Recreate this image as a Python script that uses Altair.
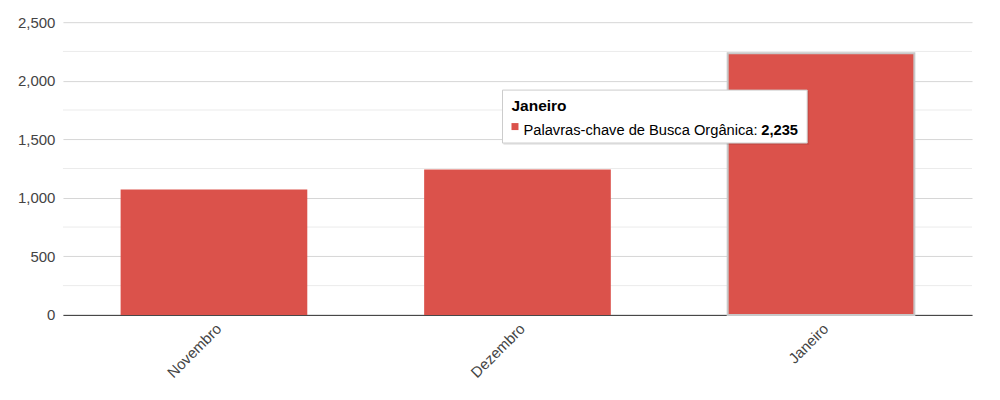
import altair as alt
import pandas as pd

months = ["Novembro", "Dezembro", "Janeiro"]
values = [1070, 1242, 2235]
series_name = "Palavras-chave de Busca Orgânica"
major_ticks = [0, 500, 1000, 1500, 2000, 2500]
minor_ticks = [250, 750, 1250, 1750, 2250]
highlight = "Janeiro"

FONT = "Liberation Sans"
BAR = "#DB524B"

df = pd.DataFrame({"mes": months, "valor": values, "hl": [m == highlight for m in months]})
minor_df = pd.DataFrame({"v": minor_ticks})

yscale = alt.Scale(domain=[0, 2500], nice=False)

minor = alt.Chart(minor_df).mark_rule(color="#ebebeb", strokeWidth=1).encode(
    y=alt.Y("v:Q", scale=yscale)
)

bars = alt.Chart(df).mark_bar(color=BAR).encode(
    x=alt.X("mes:N", sort=months, title=None,
            scale=alt.Scale(paddingInner=0.385, paddingOuter=0.19),
            axis=alt.Axis(labelAngle=-45, labelAlign="right", labelBaseline="top",
                          labelFont=FONT, labelFontSize=15, labelColor="#444",
                          ticks=False, domainColor="#333", domainWidth=1, labelPadding=6)),
    y=alt.Y("valor:Q", scale=yscale, title=None,
            axis=alt.Axis(values=major_ticks, format=",d", labelFont=FONT, labelFontSize=15,
                          labelColor="#444", gridColor="#d6d6d6", domain=False, ticks=False,
                          labelPadding=8)),
    stroke=alt.condition("datum.hl", alt.value("#c8c8c8"), alt.value(None)),
    strokeWidth=alt.condition("datum.hl", alt.value(2), alt.value(0)),
)

tip_df = pd.DataFrame({"title": [highlight], "label": [series_name + ":"],
                       "val": [f"{values[months.index(highlight)]:,}"]})

tip_shadow = alt.Chart(tip_df).mark_rect(color="#000", opacity=0.08).encode(
    x=alt.value(441), x2=alt.value(747), y=alt.value(69), y2=alt.value(123))
tip_box = alt.Chart(tip_df).mark_rect(fill="white", stroke="#cccccc", strokeWidth=1).encode(
    x=alt.value(440), x2=alt.value(745), y=alt.value(68), y2=alt.value(121))
tip_title = alt.Chart(tip_df).mark_text(align="left", baseline="alphabetic", font=FONT,
                                        fontSize=15.5, fontWeight="bold", color="#000").encode(
    x=alt.value(449), y=alt.value(89), text="title:N")
tip_sq = alt.Chart(tip_df).mark_rect(color=BAR).encode(
    x=alt.value(449), x2=alt.value(456), y=alt.value(101), y2=alt.value(108))
tip_label = alt.Chart(tip_df).mark_text(align="left", baseline="alphabetic", font=FONT,
                                        fontSize=14.7, color="#000").encode(
    x=alt.value(461), y=alt.value(113), text="label:N")
tip_val = alt.Chart(tip_df).mark_text(align="left", baseline="alphabetic", font=FONT,
                                      fontSize=14.7, fontWeight="bold", color="#000").encode(
    x=alt.value(699), y=alt.value(113), text="val:N")

chart = alt.layer(minor, bars, tip_shadow, tip_box, tip_title, tip_sq, tip_label, tip_val).properties(
    width=910, height=293,
    autosize=alt.AutoSizeParams(type="none"),
    padding={"left": 55, "top": 14, "right": 20, "bottom": 70},
).configure(background="white").configure_view(stroke=None)

chart.save("out.html", embed_options={"renderer": "svg", "actions": False})
